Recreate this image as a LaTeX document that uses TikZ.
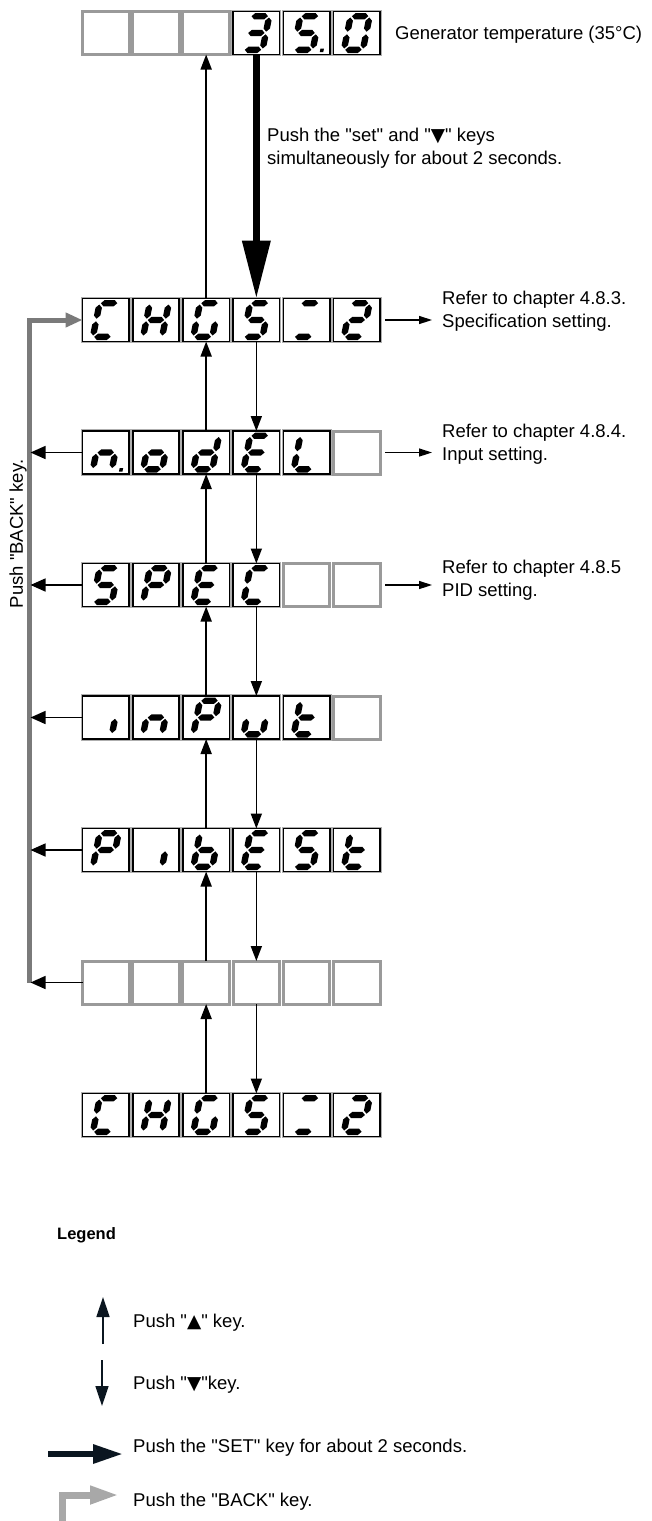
\documentclass[tikz,border=0pt]{standalone}
\usepackage{fontspec}
\setmainfont{Liberation Sans}[Ligatures=TeXOff]
\newfontfamily\symf{DejaVu Sans}
\usetikzlibrary{arrows.meta}
\definecolor{cellgray}{HTML}{9A9A9A}
\definecolor{backgray}{HTML}{7A7A7A}
\definecolor{leggray}{HTML}{A8A8A8}
\definecolor{navy}{HTML}{0B1620}
\newcommand\tf{\fontsize{18.5}{23}\selectfont}
% seven segment pieces (local coords, y downwards)
\def\sga{\fill (-8.2,-16.8) -- (-5,-20) -- (5,-20) -- (8.2,-16.8) -- (5,-13.6) -- (-5,-13.6) -- cycle;}
\def\sgg{\fill (-8.2,0) -- (-5,-3.2) -- (5,-3.2) -- (8.2,0) -- (5,3.2) -- (-5,3.2) -- cycle;}
\def\sgd{\fill (-8.2,16.8) -- (-5,13.6) -- (5,13.6) -- (8.2,16.8) -- (5,20) -- (-5,20) -- cycle;}
\def\sgf{\fill (-9.5,-15.5) -- (-6.3,-12.3) -- (-6.3,-4.5) -- (-9.5,-1.3) -- (-12.7,-4.5) -- (-12.7,-12.3) -- cycle;}
\def\sgb{\fill (9.5,-15.5) -- (12.7,-12.3) -- (12.7,-4.5) -- (9.5,-1.3) -- (6.3,-4.5) -- (6.3,-12.3) -- cycle;}
\def\sge{\fill (-9.5,1.3) -- (-6.3,4.5) -- (-6.3,12.3) -- (-9.5,15.5) -- (-12.7,12.3) -- (-12.7,4.5) -- cycle;}
\def\sgc{\fill (9.5,1.3) -- (12.7,4.5) -- (12.7,12.3) -- (9.5,15.5) -- (6.3,12.3) -- (6.3,4.5) -- cycle;}
\def\sgp{\fill (17,15.5) rectangle (20.5,19);}
\newcommand\sevseg[2]{\begin{scope}[shift={(#1.center)},xslant=0.2]\foreach \s in {#2}{\csname sg\s\endcsname}\end{scope}}
\newcommand\gc[3]{\node[gcell] (#1) at (#2,#3) {};}
\newcommand\bc[4]{\node[bcell] (#1) at (#2,#3) {};\sevseg{#1}{#4}}
\begin{document}
\begin{tikzpicture}[x=1pt,y=-1pt,
  gcell/.style={draw=cellgray, line width=3pt, minimum width=46.5pt, minimum height=43pt, inner sep=0pt, outer sep=0pt},
  bcell/.style={draw=black, line width=1.6pt, preaction={draw=cellgray!80, line width=3.4pt}, fill=white, minimum width=46.5pt, minimum height=43pt, inner sep=0pt, outer sep=0pt},
  uarr/.style={-{Triangle[length=15pt,width=11pt]}, line width=1.7pt, black},
  rarr/.style={-{Triangle[length=13pt,width=8pt]}, line width=1.5pt, black},
  larr/.style={-{Triangle[length=15pt,width=13pt]}, line width=1.5pt, black},
  bigarr/.style={-{Triangle[length=58pt,width=27pt]}, line width=7pt, black},
  backln/.style={draw=backgray, line width=5pt, -{Triangle[length=17pt,width=14pt]}},
  txt/.style={font=\tf, inner sep=0pt, anchor=base west},
]
\useasboundingbox (0,0) rectangle (651,1521);
% row 0
\gc{r0c0}{105.75}{33}\gc{r0c1}{155.95}{33}\gc{r0c2}{206.15}{33}
\bc{r0c3}{256.35}{33}{a,b,c,d,g}\bc{r0c4}{306.55}{33}{a,c,d,f,g,p}\bc{r0c5}{356.75}{33}{a,b,c,d,e,f}
% row 1
\bc{r1c0}{105.75}{320}{a,d,e,f}\bc{r1c1}{155.95}{320}{b,c,e,f,g}\bc{r1c2}{206.15}{320}{a,c,d,e,f}
\bc{r1c3}{256.35}{320}{a,c,d,f,g}\bc{r1c4}{306.55}{320}{a,d}\bc{r1c5}{356.75}{320}{a,b,d,e,g}
% row 2
\bc{r2c0}{105.75}{452.5}{c,e,g,p}\bc{r2c1}{155.95}{452.5}{c,d,e,g}\bc{r2c2}{206.15}{452.5}{b,c,d,e,g}
\bc{r2c3}{256.35}{452.5}{a,d,e,f,g}\bc{r2c4}{306.55}{452.5}{d,e,f}\gc{r2c5}{356.75}{452.5}
% row 3
\bc{r3c0}{105.75}{585}{a,c,d,f,g}\bc{r3c1}{155.95}{585}{a,b,e,f,g}\bc{r3c2}{206.15}{585}{a,d,e,f,g}
\bc{r3c3}{256.35}{585}{a,d,e,f}\gc{r3c4}{306.55}{585}\gc{r3c5}{356.75}{585}
% row 4
\bc{r4c0}{105.75}{717.5}{c}\bc{r4c1}{155.95}{717.5}{c,e,g}\bc{r4c2}{206.15}{717.5}{a,b,e,f,g}
\bc{r4c3}{256.35}{717.5}{c,d,e}\bc{r4c4}{306.55}{717.5}{d,e,f,g}\gc{r4c5}{356.75}{717.5}
% row 5
\bc{r5c0}{105.75}{850}{a,b,e,f,g}\bc{r5c1}{155.95}{850}{c}\bc{r5c2}{206.15}{850}{c,d,e,f,g}
\bc{r5c3}{256.35}{850}{a,d,e,f,g}\bc{r5c4}{306.55}{850}{a,c,d,f,g}\bc{r5c5}{356.75}{850}{d,e,f,g}
% row 6
\gc{r6c0}{105.75}{982.5}\gc{r6c1}{155.95}{982.5}\gc{r6c2}{206.15}{982.5}
\gc{r6c3}{256.35}{982.5}\gc{r6c4}{306.55}{982.5}\gc{r6c5}{356.75}{982.5}
% row 7
\bc{r7c0}{105.75}{1115}{a,d,e,f}\bc{r7c1}{155.95}{1115}{b,c,e,f,g}\bc{r7c2}{206.15}{1115}{a,c,d,e,f}
\bc{r7c3}{256.35}{1115}{a,c,d,f,g}\bc{r7c4}{306.55}{1115}{a,d}\bc{r7c5}{356.75}{1115}{a,b,d,e,g}
% vertical arrows
\draw[uarr] (r1c2.north) -- (r0c2.south);
\draw[bigarr] (r0c3.south) -- (r1c3.north);
\foreach \a/\b in {1/2,2/3,3/4,4/5,5/6,6/7}{
  \draw[uarr] (r\b c2.north) -- (r\a c2.south);
  \draw[uarr] (r\a c3.south) -- (r\b c3.north);
}
% texts
\node[txt] (gen) at (395,39) {Generator temperature (35°C)};
\node[txt] (set1) at (267,141) {Push the "set" and "{\symf ▼}" keys};
\node[txt] (set2) at (267,164) {simultaneously for about 2 seconds.};
% back line
\coordinate (bktop) at (29.5,320);
\coordinate (bkbot) at (29.5,982.5);
\draw[backln] (bkbot) -- (bktop) -- (r1c0.west);
\foreach \r in {2,3,4,5,6}{
  \draw[larr, shorten >=1pt] (r\r c0.west) -- (r\r c0.west -| bktop);
}
\node[font=\tf, rotate=90, inner sep=0pt] (backlbl) at (18,534) {Push "BACK" key.};
% right side references
\node[txt] (ref1a) at (442,304.5) {Refer to chapter 4.8.3.};
\node[txt] (ref1b) at (442,327.5) {Specification setting.};
\node[txt] (ref2a) at (442,437) {Refer to chapter 4.8.4.};
\node[txt] (ref2b) at (442,460) {Input setting.};
\node[txt] (ref3a) at (442,573) {Refer to chapter 4.8.5};
\node[txt] (ref3b) at (442,596) {PID setting.};
\draw[rarr, shorten <=5pt, shorten >=10pt] (r1c5.east) -- (r1c5.east -| ref1b.west);
\draw[rarr, shorten <=5pt, shorten >=10pt] (r2c5.east) -- (r2c5.east -| ref2b.west);
\draw[rarr, shorten <=5pt, shorten >=10pt] (r3c5.east) -- (r3c5.east -| ref3b.west);
% legend
\node[font=\fontsize{16.5}{19}\selectfont\bfseries, inner sep=0pt, anchor=base west] (legend) at (57,1239) {Legend};
\coordinate (lu1) at (103,1344); \coordinate (lu2) at (103,1297);
\draw[-{Triangle[length=20pt,width=13pt]}, line width=1.5pt, navy] (lu1) -- (lu2);
\node[txt] (lt1) at (133,1327) {Push "{\symf ▲}" key.};
\coordinate (ld1) at (102,1360); \coordinate (ld2) at (102,1406);
\draw[-{Triangle[length=20pt,width=13pt]}, line width=1.5pt, navy] (ld1) -- (ld2);
\node[txt] (lt2) at (133,1389) {Push "{\symf ▼}"key.};
\coordinate (ls1) at (48,1454); \coordinate (ls2) at (123,1454);
\draw[-{Triangle[length=30pt,width=18pt]}, line width=6pt, navy] (ls1) -- (ls2);
\node[txt] (lt3) at (133,1452.5) {Push the "SET" key for about 2 seconds.};
\coordinate (lb0) at (62,1521); \coordinate (lb1) at (62,1495); \coordinate (lb2) at (119,1495);
\draw[-{Triangle[length=29pt,width=17pt]}, line width=7pt, leggray] (lb0) -- (lb1) -- (lb2);
\node[txt] (lt4) at (133,1506.5) {Push the "BACK" key.};
\end{tikzpicture}
\end{document}
